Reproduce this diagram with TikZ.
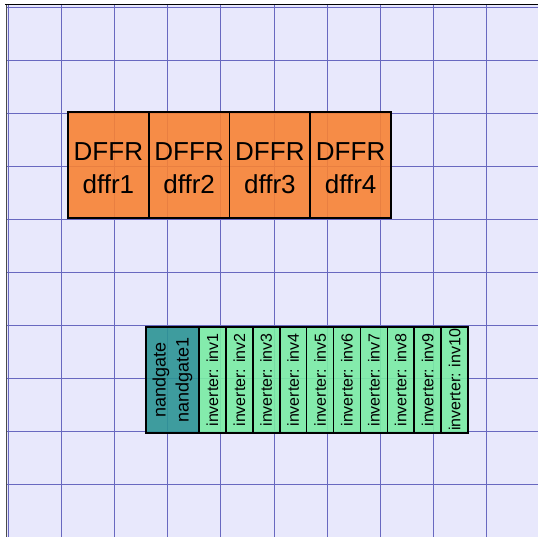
\documentclass[tikz,border=0pt]{standalone}
\usepackage{fontspec}
\setmainfont{Liberation Sans}
\usetikzlibrary{positioning}
\definecolor{sheet}{RGB}{232,232,252}
\definecolor{gridblue}{RGB}{104,104,192}
\definecolor{dffrorange}{RGB}{248,130,52}
\definecolor{nandteal}{RGB}{44,148,148}
\definecolor{invgreen}{RGB}{122,236,164}

\begin{document}
\begin{tikzpicture}[x=1pt,y=-1pt]
        \tikzstyle{gridline} = [gridblue, line width=0.9pt]
        \tikzstyle{dffr} = [rectangle, minimum width=80.75pt, minimum height=106pt, inner sep=0pt, outer sep=0pt, align=center, draw=black, line width=1.6pt, fill=dffrorange, fill opacity=0.9, text opacity=1, font=\fontsize{26}{33}\selectfont]
        \tikzstyle{nand} = [rectangle, minimum width=53pt, minimum height=106pt, inner sep=0pt, outer sep=0pt, draw=black, line width=1.6pt, fill=nandteal, fill opacity=0.9, text opacity=1, font=\fontsize{18}{23}\selectfont]
        \tikzstyle{inverter} = [rectangle, minimum width=26.9pt, minimum height=106pt, inner sep=0pt, outer sep=0pt, draw=black, line width=1.6pt, fill=invgreen, fill opacity=0.9, text opacity=1, font=\fontsize{16}{18}\selectfont]
        \useasboundingbox (0,0) rectangle (538,537);
        \fill[white] (0,0) rectangle (538,537);
        \fill[sheet] (6.5,4.5) rectangle (538,537);
        \foreach \k in {0,...,9} {
                \draw[gridline] (8.5+53.1*\k,4.5) -- (8.5+53.1*\k,537);
                \draw[gridline] (6.5,7+53.1*\k) -- (538,7+53.1*\k);
        }
        \draw[black!70, line width=1pt] (6.5,537) -- (6.5,4.5);
        \draw[black, line width=1pt] (5,4.5) -- (538,4.5);
        \node (dffr1) [dffr, anchor=north west] at (68,112) {\rule{0pt}{24pt}DFFR\\dffr1};
        \node (dffr2) [dffr, right=0pt of dffr1] {\rule{0pt}{24pt}DFFR\\dffr2};
        \node (dffr3) [dffr, right=0pt of dffr2] {\rule{0pt}{24pt}DFFR\\dffr3};
        \node (dffr4) [dffr, right=0pt of dffr3] {\rule{0pt}{24pt}DFFR\\dffr4};
        \node (nandgate1) [nand, anchor=north west] at (146,327) {\rotatebox{90}{\begin{tabular}{@{}c@{}}nandgate\\nandgate1\end{tabular}}};
        \node (inv1) [inverter, right=0pt of nandgate1] {\rotatebox{90}{inverter: inv1}};
        \node (inv2) [inverter, right=0pt of inv1] {\rotatebox{90}{inverter: inv2}};
        \node (inv3) [inverter, right=0pt of inv2] {\rotatebox{90}{inverter: inv3}};
        \node (inv4) [inverter, right=0pt of inv3] {\rotatebox{90}{inverter: inv4}};
        \node (inv5) [inverter, right=0pt of inv4] {\rotatebox{90}{inverter: inv5}};
        \node (inv6) [inverter, right=0pt of inv5] {\rotatebox{90}{inverter: inv6}};
        \node (inv7) [inverter, right=0pt of inv6] {\rotatebox{90}{inverter: inv7}};
        \node (inv8) [inverter, right=0pt of inv7] {\rotatebox{90}{inverter: inv8}};
        \node (inv9) [inverter, right=0pt of inv8] {\rotatebox{90}{inverter: inv9}};
        \node (inv10) [inverter, right=0pt of inv9] {\rotatebox{90}{inverter: inv10}};
    \end{tikzpicture}
\end{document}
